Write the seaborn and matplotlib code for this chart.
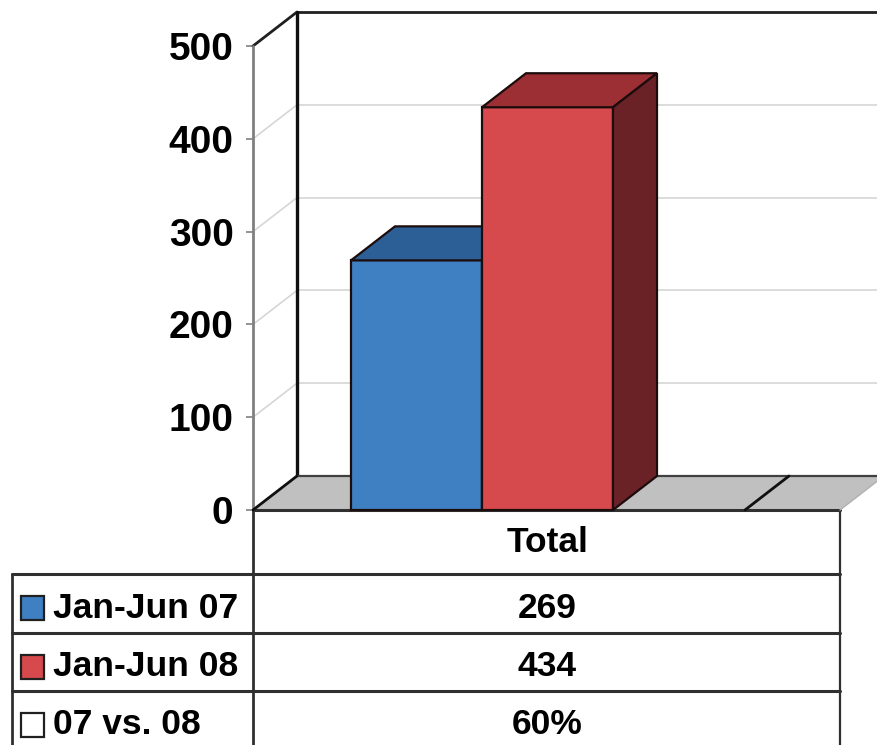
import matplotlib
matplotlib.use("Agg")
import numpy as np
import pandas as pd
import matplotlib.pyplot as plt
from matplotlib.patches import Polygon, Rectangle
import seaborn as sns

# ===================== DATA =====================
CATEGORY   = ["Total"]
SERIES     = ["Jan-Jun 07", "Jan-Jun 08"]
VALUES     = [269, 434]
CHANGE_LBL = "07 vs. 08"
CHANGE_VAL = "60%"
YTICKS     = [0, 100, 200, 300, 400, 500]

FRONT = ["#3e80c1", "#d64a4d"]
TOP   = ["#2d5f97", "#9b2f34"]
SIDE  = ["#203f66", "#6b2227"]
EDGE  = "#1c0c0c"

# ===================== LAYOUT (pixels) =====================
W, H        = 878, 745
PX_L, PX_R  = 253, 840     # front plane of the plot area
PX_Y0       = 510          # value 0
PX_YTOP     = 46           # value 500
PX_CAT      = 482          # centre of the category
UNIT_PX     = 327.5        # pixels per category unit
DEPTH_PX    = (44, 34)     # 3-d offset
FLOOR_DIV   = 0.803        # floor divider (category units)

sns.set_style("white")
plt.rcParams["font.family"] = ["Liberation Sans", "DejaVu Sans"]
plt.rcParams["font.weight"] = "bold"
plt.rcParams["text.color"] = "black"
plt.rcParams["ytick.labelcolor"] = "black"

df = pd.DataFrame({"cat": CATEGORY * len(SERIES), "series": SERIES, "value": VALUES})

fig = plt.figure(figsize=(W / 100, H / 100), dpi=100)
fig.patch.set_facecolor("white")

ax = fig.add_axes([PX_L / W, (H - PX_Y0) / H, (PX_R - PX_L) / W, (PX_Y0 - PX_YTOP) / H])
ax.patch.set_alpha(0)
ax.set_zorder(2)

sns.barplot(data=df, x="cat", y="value", hue="series", palette=FRONT, saturation=1,
            width=0.8, ax=ax, legend=False, edgecolor=EDGE, linewidth=1.6)

xmin = (PX_L - PX_CAT) / UNIT_PX
xmax = (PX_R - PX_CAT) / UNIT_PX
ymax = YTICKS[-1]
ax.set_xlim(xmin, xmax)
ax.set_ylim(0, ymax)
ddx = DEPTH_PX[0] / UNIT_PX
ddy = DEPTH_PX[1] * ymax / (PX_Y0 - PX_YTOP)
far = xmax + 1.0

# ---- walls & gridlines ----
for v in YTICKS[1:-1]:
    ax.plot([xmin + ddx, far], [v + ddy, v + ddy], color="#d6d6d6", lw=1.2, zorder=1, clip_on=False)
    ax.plot([xmin, xmin + ddx], [v, v + ddy], color="#d6d6d6", lw=1.2, zorder=1, clip_on=False)
ax.plot([xmin + ddx, far], [ymax + ddy] * 2, color="#202020", lw=2, zorder=2, clip_on=False)
ax.plot([xmin, xmin + ddx], [ymax, ymax + ddy], color="#202020", lw=2, zorder=2, clip_on=False)
ax.plot([xmin + ddx] * 2, [ddy, ymax + ddy], color="#101010", lw=2.4, zorder=2, clip_on=False)
ax.plot([xmin, xmin], [0, ymax], color="#808080", lw=2, zorder=2, clip_on=False)

# ---- floor ----
floor = Polygon([(xmin, 0), (xmax, 0), (xmax + ddx, ddy), (xmin + ddx, ddy)],
                closed=True, facecolor="#c0c0c0", edgecolor="none", zorder=3, clip_on=False)
ax.add_patch(floor)
ax.plot([xmin + ddx, far], [ddy, ddy], color="#404040", lw=1.6, zorder=4, clip_on=False)
ax.plot([xmin, xmax], [0, 0], color="#303030", lw=2.2, zorder=4, clip_on=False)
ax.plot([xmin, xmin + ddx], [0, ddy], color="#101010", lw=2, zorder=4, clip_on=False)
ax.plot([FLOOR_DIV, FLOOR_DIV + ddx], [0, ddy], color="#101010", lw=2, zorder=4, clip_on=False)
ax.plot([xmax, xmax + ddx], [0, ddy], color="#b0b0b0", lw=1, zorder=4, clip_on=False)

# ---- 3-d faces of the bars ----
for i, bar in enumerate(ax.patches[:len(SERIES)]):
    x0, w, h = bar.get_x(), bar.get_width(), bar.get_height()
    z = 10 + 3 * i
    bar.set_zorder(z)
    bar.set_clip_on(False)
    top = Polygon([(x0, h), (x0 + w, h), (x0 + w + ddx, h + ddy), (x0 + ddx, h + ddy)],
                  closed=True, facecolor=TOP[i], edgecolor=EDGE, lw=1.6, zorder=z + 1, clip_on=False)
    side = Polygon([(x0 + w, 0), (x0 + w + ddx, ddy), (x0 + w + ddx, h + ddy), (x0 + w, h)],
                   closed=True, facecolor=SIDE[i], edgecolor=EDGE, lw=1.6, zorder=z + 2, clip_on=False)
    ax.add_patch(top)
    ax.add_patch(side)

sns.despine(ax=ax, left=True, bottom=True)
ax.set_xticks([])
ax.set_xlabel("")
ax.set_ylabel("")
ax.set_yticks(YTICKS)
ax.set_yticklabels([str(v) for v in YTICKS], fontsize=28, fontweight="bold", color="black")
ax.tick_params(axis="y", length=5, width=1.2, color="#808080", pad=9, left=True)

# ===================== DATA TABLE =====================
tab = fig.add_axes([0, 0, 1, 1])
tab.set_zorder(1)
tab.patch.set_alpha(0)
tab.set_xlim(0, W)
tab.set_ylim(H, 0)
tab.axis("off")

TAB_L    = 12
HEAD_BOT = 574
ROW_H    = 58.5
LINE_C   = "#303030"

row_tops = [HEAD_BOT + ROW_H * k for k in range(3)]
tab.plot([PX_L, PX_L], [PX_Y0, H], color=LINE_C, lw=2)
tab.plot([PX_R, PX_R], [PX_Y0, H], color=LINE_C, lw=1.6)
tab.plot([TAB_L, TAB_L], [HEAD_BOT, H], color=LINE_C, lw=2)
for yt in row_tops:
    tab.plot([TAB_L, PX_R], [yt, yt], color=LINE_C, lw=2.2)

tab.text((PX_L + PX_R) / 2 + 1, (PX_Y0 + HEAD_BOT) / 2 + 1, CATEGORY[0],
         ha="center", va="center", fontsize=25.5, fontweight="bold", color="black")

row_labels = SERIES + [CHANGE_LBL]
row_values = [str(v) for v in VALUES] + [CHANGE_VAL]
key_colors = FRONT + ["white"]
for yt, lbl, val, kc in zip(row_tops, row_labels, row_values, key_colors):
    yc = yt + 34
    tab.add_patch(Rectangle((21, yc - 12), 23, 24, facecolor=kc, edgecolor="#202020", lw=1.6))
    tab.text(53, yc, lbl, ha="left", va="center", fontsize=25.5, fontweight="bold", color="black")
    tab.text((PX_L + PX_R) / 2 + 1, yc, val, ha="center", va="center", fontsize=25.5,
             fontweight="bold", color="black")

fig.savefig("out.png", dpi=100, facecolor="white")
plt.close(fig)
